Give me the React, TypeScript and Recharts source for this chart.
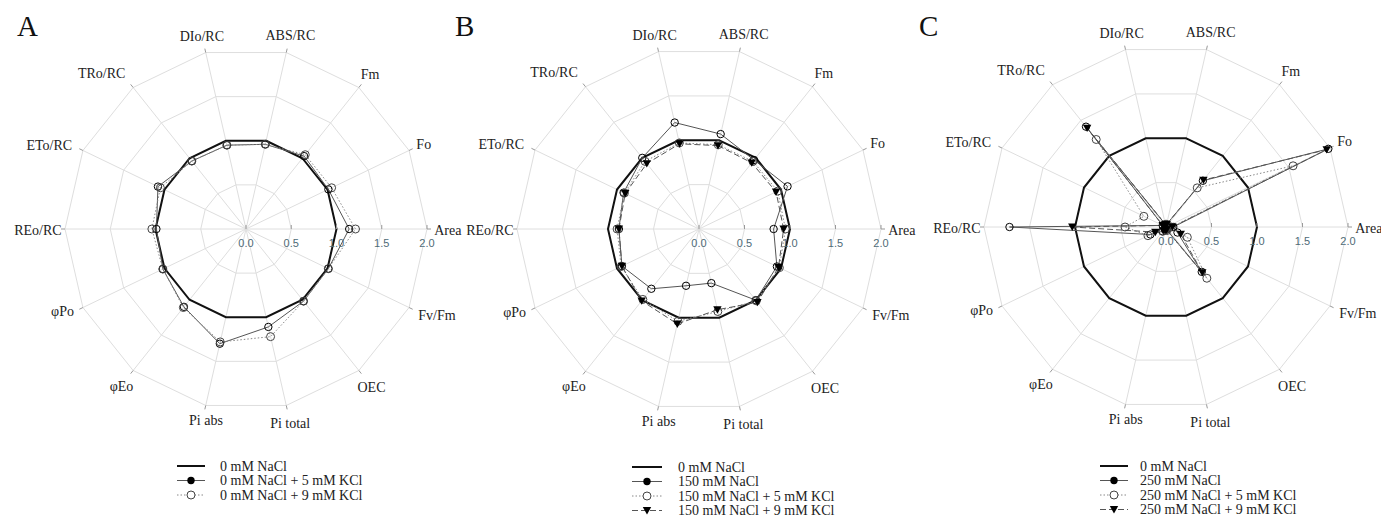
import React from "react";
import { PolarAngleAxis, PolarGrid, PolarRadiusAxis, Radar, RadarChart } from "recharts";

// axes, clockwise from ABS/RC
const AXES = ["ABS/RC", "Fm", "Fo", "Area", "Fv/Fm", "OEC", "Pi total", "Pi abs", "\u03c6Eo", "\u03c6Po", "REo/RC", "ETo/RC", "TRo/RC", "DIo/RC"];
const RADIUS_TICKS = [0, 0.5, 1, 1.5, 2];

const CONTROL = [1, 1, 1, 1, 1, 1, 1, 1, 1, 1, 1, 1, 1, 1];

// panel A
const A_KCL5 = [0.96, 1.03, 1.01, 1.14, 1.01, 1.02, 1.11, 1.3, 1.1, 1.02, 0.99, 1.08, 0.96, 0.95];
const A_KCL9 = [0.96, 1.05, 1.05, 1.21, 1.01, 1.02, 1.22, 1.28, 1.11, 1.02, 1.04, 1.05, 0.96, 0.95];

// panel B
const B_NACL = [1.07, 0.97, 1.08, 0.82, 0.95, 1.0, 0.61, 0.64, 0.84, 0.94, 0.88, 0.92, 1.0, 1.2];
const B_KCL5 = [0.95, 0.95, 0.96, 0.95, 0.98, 1.01, 0.93, 1.04, 0.99, 0.95, 0.9, 0.91, 0.95, 0.97];
const B_KCL9 = [0.94, 0.93, 0.94, 0.93, 0.97, 1.03, 0.91, 1.07, 1.01, 0.94, 0.88, 0.9, 0.92, 0.96];

// panel C
const C_NACL = [0.03, 0.65, 1.98, 0.08, 0.14, 0.63, 0.03, 0.02, 0.06, 0.19, 1.72, 0.04, 1.41, 0.03];
const C_KCL5 = [0.03, 0.55, 1.55, 0.06, 0.26, 0.72, 0.04, 0.03, 0.06, 0.22, 0.45, 0.27, 1.23, 0.03];
const C_KCL9 = [0.03, 0.66, 1.96, 0.07, 0.18, 0.64, 0.03, 0.03, 0.05, 0.13, 1.03, 0.04, 1.39, 0.03];

type Kind = "control" | "filled" | "open" | "tri";
type Series = { key: string; label: string; kind: Kind; values: number[] };

const SERIF = "'Liberation Serif', 'Times New Roman', serif";
const SANS = "'Liberation Sans', Arial, sans-serif";

const STYLE: Record<Kind, { stroke: string; width: number; dash?: string }> = {
  control: { stroke: "#111", width: 2 },
  filled: { stroke: "#555", width: 1 },
  open: { stroke: "#888", width: 1, dash: "1.5 2" },
  tri: { stroke: "#555", width: 1, dash: "6 3" },
};

// small hand placement tweaks of the axis labels (the original is not strictly radial)
const LABEL_NUDGE: Record<string, [number, number]> = {
  "TRo/RC": [-15, 6],
  "ETo/RC": [-6, 7],
  "REo/RC": [3, 0],
  "\u03c6Po": [-3, -5],
  "Fv/Fm": [3, -5],
  "Pi abs": [4, -2],
};

const triDot = (p: any) => {
  if (p.cx == null) return null;
  const { cx, cy } = p;
  return <path key={`tri-${p.index}`} d={`M${cx - 4.2},${cy - 3.4}L${cx + 4.2},${cy - 3.4}L${cx},${cy + 4}Z`} fill="#000" />;
};

const dotFor = (kind: Kind): any => {
  if (kind === "filled") return { r: 3.7, fill: "#000", stroke: "#000", strokeWidth: 1, strokeDasharray: "" };
  if (kind === "open") return { r: 4, fill: "#fff", stroke: "#444", strokeWidth: 1, strokeDasharray: "" };
  if (kind === "tri") return triDot;
  return false;
};

const PANELS = [
  {
    letter: "A", left: 0, width: 480, cx: 246, cy: 229, r: 181, letterX: 17,
    legend: { x1: 177, x2: 205, tx: 220, y: 466 },
    series: [
      { key: "ctrl", label: "0 mM NaCl", kind: "control", values: CONTROL },
      { key: "k5", label: "0 mM NaCl + 5 mM KCl", kind: "filled", values: A_KCL5 },
      { key: "k9", label: "0 mM NaCl + 9 mM KCl", kind: "open", values: A_KCL9 },
    ] as Series[],
  },
  {
    letter: "B", left: 460, width: 480, cx: 239, cy: 229, r: 182, letterX: 455,
    legend: { x1: 632, x2: 662, tx: 678, y: 467 },
    series: [
      { key: "ctrl", label: "0 mM NaCl", kind: "control", values: CONTROL },
      { key: "na", label: "150 mM NaCl", kind: "filled", values: B_NACL },
      { key: "k5", label: "150 mM NaCl + 5 mM KCl", kind: "open", values: B_KCL5 },
      { key: "k9", label: "150 mM NaCl + 9 mM KCl", kind: "tri", values: B_KCL9 },
    ] as Series[],
  },
  {
    letter: "C", left: 920, width: 461, cx: 246, cy: 227, r: 182, letterX: 919,
    legend: { x1: 1100, x2: 1128, tx: 1140, y: 466 },
    series: [
      { key: "ctrl", label: "0 mM NaCl", kind: "control", values: CONTROL },
      { key: "na", label: "250 mM NaCl", kind: "filled", values: C_NACL },
      { key: "k5", label: "250 mM NaCl + 5 mM KCl", kind: "open", values: C_KCL5 },
      { key: "k9", label: "250 mM NaCl + 9 mM KCl", kind: "tri", values: C_KCL9 },
    ] as Series[],
  },
];

// rough Times glyph widths (em) for label placement
const glyphW = (ch: string) => {
  if (ch === " ") return 0.25;
  if ("/iltI".includes(ch)) return 0.28;
  if ("mM".includes(ch)) return 0.84;
  if (ch >= "A" && ch <= "Z") return 0.67;
  return 0.48;
};
const textW = (s: string, size: number) => s.split("").reduce((a, c) => a + glyphW(c), 0) * size;

const AngleTick = (props: any) => {
  const { x, y, payload, ccx, ccy } = props;
  const a = Math.atan2(-(y - ccy), x - ccx);
  const c = Math.cos(a);
  const s = Math.sin(a);
  const label = String(payload.value);
  const [nx, ny] = LABEL_NUDGE[label] ?? [0, 0];
  const off = 2 + (Math.abs(c) * textW(label, 14)) / 2 + Math.abs(s) * 7;
  return (
    <text x={x + c * off + nx} y={y - s * off + 1 + ny} textAnchor="middle" dominantBaseline="central" fontFamily={SERIF} fontSize={14} fill="#222">
      {label}
    </text>
  );
};

const RadiusTick = (props: any) => {
  const { x, y, payload } = props;
  return (
    <g>
      <line x1={x} y1={y - 4} x2={x} y2={y} stroke="#999" />
      <text x={x} y={y + 14} textAnchor="middle" dominantBaseline="central" fontFamily={SANS} fontSize={11} fill="#4f6b77">
        {Number(payload.value).toFixed(1)}
      </text>
    </g>
  );
};

function Panel({ panel }: { panel: (typeof PANELS)[number] }) {
  const data = AXES.map((axis, i) => {
    const row: Record<string, string | number> = { axis };
    panel.series.forEach((s) => (row[s.key] = s.values[i]));
    return row;
  });
  const start = 90 - 180 / AXES.length;
  return (
    <div style={{ position: "absolute", left: panel.left, top: 0 }}>
      <RadarChart
        width={panel.width}
        height={450}
        data={data}
        cx={panel.cx}
        cy={panel.cy}
        outerRadius={panel.r}
        startAngle={start}
        endAngle={start - 360}
        margin={{ top: 0, right: 0, bottom: 0, left: 0 }}
      >
        <PolarGrid gridType="polygon" stroke="#dedede" />
        <PolarAngleAxis
          dataKey="axis"
          axisLine={false}
          tickSize={4}
          tickLine={{ stroke: "#999" }}
          tick={(p: any) => <AngleTick {...p} ccx={panel.cx} ccy={panel.cy} />}
        />
        <PolarRadiusAxis angle={0} type="number" domain={[0, 2]} ticks={RADIUS_TICKS} tickCount={5} axisLine={false} tickLine={false} tick={RadiusTick} />
        {panel.series.map((s) => (
          <Radar
            key={s.key}
            name={s.label}
            dataKey={s.key}
            stroke={STYLE[s.kind].stroke}
            strokeWidth={STYLE[s.kind].width}
            strokeDasharray={STYLE[s.kind].dash}
            fill="none"
            fillOpacity={0}
            dot={dotFor(s.kind)}
            isAnimationActive={false}
          />
        ))}
      </RadarChart>
    </div>
  );
}

function LegendMarker({ kind, x }: { kind: Kind; x: number }) {
  if (kind === "filled") return <circle cx={x} cy={0} r={3.7} fill="#000" />;
  if (kind === "open") return <circle cx={x} cy={0} r={4} fill="#fff" stroke="#444" />;
  if (kind === "tri") return <path d={`M${x - 4.2},-3.4L${x + 4.2},-3.4L${x},4Z`} fill="#000" />;
  return null;
}

export default function App() {
  return (
    <div style={{ position: "absolute", left: 0, top: 0, width: 1381, height: 521, overflow: "hidden", background: "#fff" }}>
      {PANELS.map((p) => (
        <Panel key={p.letter} panel={p} />
      ))}
      <svg width={1381} height={521} style={{ position: "absolute", left: 0, top: 0, pointerEvents: "none" }}>
        {PANELS.map((p) => (
          <g key={p.letter}>
            <text x={p.letterX} y={36} fontFamily={SERIF} fontSize={29} fill="#111">
              {p.letter}
            </text>
            {p.series.map((s, i) => {
              const st = STYLE[s.kind];
              const y = p.legend.y + i * 14.5;
              return (
                <g key={s.key} transform={`translate(0,${y})`}>
                  <line x1={p.legend.x1} x2={p.legend.x2} y1={0} y2={0} stroke={s.kind === "control" ? "#111" : st.stroke} strokeWidth={s.kind === "control" ? 2 : 1} strokeDasharray={st.dash} />
                  <LegendMarker kind={s.kind} x={(p.legend.x1 + p.legend.x2) / 2} />
                  <text x={p.legend.tx} y={0} dominantBaseline="central" fontFamily={SERIF} fontSize={14} fill="#222">
                    {s.label}
                  </text>
                </g>
              );
            })}
          </g>
        ))}
      </svg>
    </div>
  );
}
